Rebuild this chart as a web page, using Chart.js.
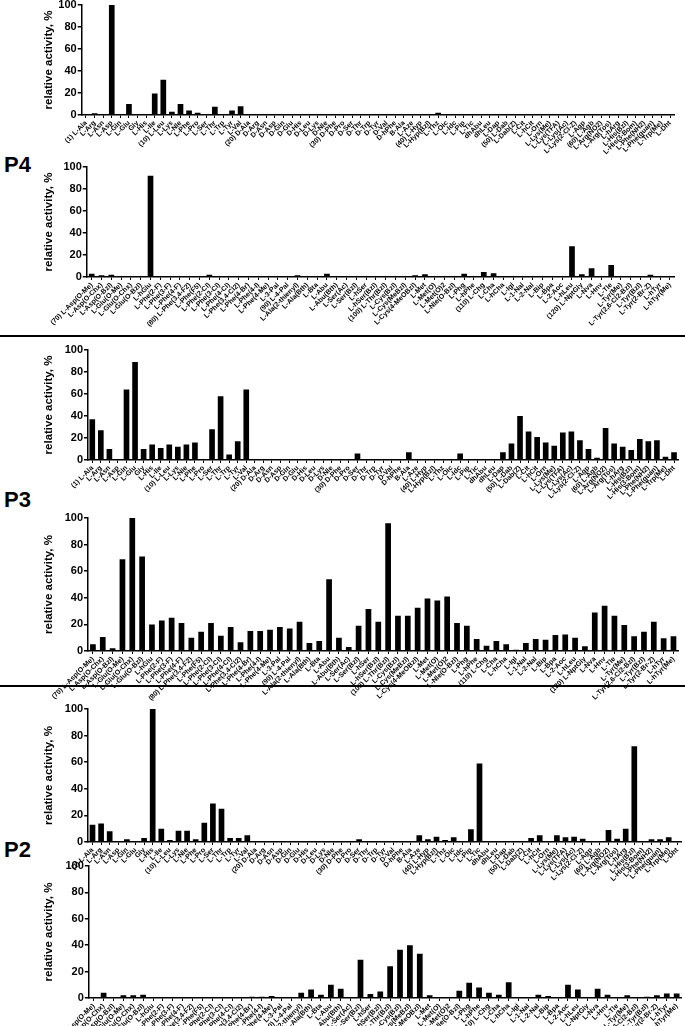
<!DOCTYPE html>
<html>
<head>
<meta charset="utf-8">
<title>Substrate specificity P4 / P3 / P2</title>
<script src="https://cdn.jsdelivr.net/npm/chart.js@4.4.1/dist/chart.umd.min.js"></script>
<style>
  body { margin: 0; width: 685px; height: 1026px; background: #fff; position: relative; overflow: hidden; }
  canvas { position: absolute; }
  .sep { position: absolute; left: 0; width: 685px; height: 2px; background: #000; }
  .tag { position: absolute; left: 4px; font: bold 22px 'Liberation Sans', Arial, sans-serif; color: #000; }
</style>
</head>
<body>
<div class="tag" style="top:152px">P4</div>
<div class="tag" style="top:487px">P3</div>
<div class="tag" style="top:837px">P2</div>
<div class="sep" style="top:335px"></div>
<div class="sep" style="top:685px"></div>

<canvas id="p4a"></canvas>
<canvas id="p4b"></canvas>
<canvas id="p3a"></canvas>
<canvas id="p3b"></canvas>
<canvas id="p2a"></canvas>
<canvas id="p2b"></canvas>

<script>
// amino acid sets (1-69 and 70-129)
const labelsNat = [
  '(1) L-Ala', 'L-Arg', 'L-Asn', 'L-Asp', 'L-Gln', 'L-Glu', 'Gly', 'L-His', 'L-Ile', '(10) L-Leu',
  'L-Lys', 'L-Nle', 'L-Phe', 'L-Pro', 'L-Ser', 'L-Thr', 'L-Trp', 'L-Tyr', 'L-Val', '(20) D-Ala',
  'D-Arg', 'D-Asn', 'D-Asp', 'D-Gln', 'D-Glu', 'D-His', 'D-Leu', 'D-Lys', 'D-Nle', '(30) D-Phe',
  'D-Pro', 'D-Ser', 'D-Thr', 'D-Trp', 'D-Tyr', 'D-Val', 'D-hPhe', 'B-Ala', 'L-Aze', '(40) L-Hyp',
  'L-Hyp(Bzl)', 'L-Thz', 'L-Oic', 'L-Idc', 'L-Pip', 'L-Tic', 'dhAbu', 'dhLeu', 'L-Dap', '(50) L-Dab',
  'L-Dab(Z)', 'L-Cit', 'L-hCit', 'L-Orn', 'L-Lys(Me)', 'L-Lys(TFA)', 'L-Lys(Ac)', 'L-Lys(2-Cl-Z)', 'L-Agp', '(60) L-Agb',
  'L-Arg(NO2)', 'L-Arg(Tos)', 'L-hArg', 'L-His(Bzl)', 'L-His(3-Bom)', 'L-Phe(NH2)', 'L-Phe(guan)', 'L-Trp(Me)', 'L-Dht'
];
const labelsUnnat = [
  '(70) L-Asp(O-Me)', 'L-Asp(O-Chx)', 'L-Asp(O-Bzl)', 'L-Glu(O-Me)', 'L-Glu(O-Chx)', 'L-Glu(O-Bzl)', 'L-hGlu', 'L-Phe(2-F)', 'L-Phe(3-F)', 'L-Phe(4-F)',
  '(80) L-Phe(3,4-F2)', 'L-Phe(F5)', 'L-Phe(2-Cl)', 'L-Phe(3-Cl)', 'L-Phe(4-Cl)', 'L-Phe(3,4-Cl2)', 'L-Phe(4-Br)', 'L-Phe(4-I)', 'L-Phe(4-Me)', 'L-3-Pal',
  '(90) L-4-Pal', 'L-Ala(2-thienyl)', 'L-Ala(Bth)', 'L-Bta', 'L-Abu', 'L-Abu(Bth)', 'L-Ser(Ac)', 'L-Ser(Bzl)', 'L-hSer', 'L-hSer(Bzl)',
  '(100) L-Thr(Bzl)', 'L-Cys(Bzl)', 'L-Cys(MeBzl)', 'L-Cys(4-MeOBzl)', 'L-Met', 'L-Met(O)', 'L-Met(O)2', 'L-Nle(O-Bzl)', 'L-Phg', 'L-hPhe',
  '(110) L-Chg', 'L-Cha', 'L-hCha', 'L-Igl', 'L-1-Nal', 'L-2-Nal', 'L-Bip', 'L-Bpa', 'L-2-Aoc', 'L-hLeu',
  '(120) L-NptGly', 'L-Nva', 'L-Hnv', 'L-Tle', 'L-Tyr(Me)', 'L-Tyr(2,6-Cl2-Bzl)', 'L-Tyr(Bzl)', 'L-Tyr(2-Br-Z)', 'L-hTyr', 'L-hTyr(Me)'
];

// relative activity, %
const p4Nat = [
  0, 1.5, 0, 100, 1, 10, 0, 0, 19.5, 32,
  3, 10, 4, 2, 0, 7.5, 0.5, 4, 8, 0,
  0, 0, 0, 0, 0, 0, 0, 0, 0, 0,
  0, 0, 0, 0, 0, 0, 0, 0, 0, 0,
  0, 2, 0, 0, 0, 0, 0, 1, 0, 0,
  0, 0, 0, 0, 0, 0, 0, 0, 0, 0,
  0, 0, 0, 0, 0, 0, 0, 0, 0
];
const p4Unnat = [
  3, 1.5, 2, 0, 0, 0, 92, 1, 1, 0,
  0, 0, 2, 0, 0, 0, 0, 0, 0, 1,
  0, 1.5, 0, 0, 3, 0, 0, 0, 0, 0,
  0, 0, 0, 1.5, 2.5, 0, 0, 0, 3, 0,
  4.5, 3.5, 0, 0, 0, 0, 0, 0, 0, 28,
  2.5, 8, 1, 11, 0, 0, 0, 2, 0, 0
];
const p3Nat = [
  37, 27, 10, 0, 64, 89, 10, 14, 11, 14,
  12, 14, 16, 0, 28, 58, 5, 17, 64, 1,
  0, 0, 0, 0, 0, 0, 0, 0, 0, 0,
  0, 6, 0, 0, 0, 0, 0, 7, 0, 0,
  0, 0, 0, 6, 0, 0, 0, 0, 7, 15,
  40, 26, 21, 16, 13, 25, 26, 18, 10, 2,
  29, 15, 12, 9, 19, 17, 18, 3, 7
];
const p3Unnat = [
  5, 10.5, 2, 69, 100, 71, 20, 23, 25, 21,
  10, 14.5, 21, 11.5, 18, 6.5, 15, 15, 16, 18,
  17, 22, 6, 7.5, 54, 10, 3, 19, 31.5, 22,
  96, 26.5, 26.5, 32.5, 39.5, 38, 41, 21, 19, 9,
  4, 7.5, 5, 1, 6, 9, 8.5, 12, 12.5, 10,
  3.5, 29, 34, 26.5, 19.5, 11, 14.5, 22, 9.5, 11
];
const p2Nat = [
  13, 14, 8, 0, 2, 0, 3, 100, 10, 1.5,
  8.5, 8.5, 2, 14.5, 29, 25, 3, 3, 5, 0,
  0, 0, 0, 0, 0, 0, 0, 0, 0, 0,
  0, 2, 0, 0, 0, 0, 0, 0, 5, 2,
  4, 1.5, 3.5, 0, 9.5, 59, 0, 0, 0, 0,
  0, 3, 5, 0, 5, 3.5, 4, 2.5, 0, 0,
  9, 2.5, 10, 72, 0, 2, 2, 3.5, 0
];
const p2Unnat = [
  0, 4, 0, 2, 2, 2.5, 0, 0, 0, 0,
  0, 0, 0, 0, 0, 0, 1, 1, 1.5, 0,
  0, 4, 6.5, 2.5, 10, 7, 0, 29, 3, 5,
  24, 36.5, 40, 33.5, 2, 0, 0, 5.5, 11.5, 8,
  4, 2.5, 12, 0, 0, 2.5, 1.5, 0, 10, 6.5,
  0, 7, 2.5, 0, 2, 0, 1, 2, 3.5, 3.5
];
const yTicks = [0, 20, 40, 60, 80, 100];

const FONT = "'Liberation Sans', Arial, sans-serif";
const CANVAS_LEFT = 38;
const TOP_PAD = 8;
const X_AXIS_H = 52;
const EXTRA_BOTTOM = 40; // room for long rotated labels

function makePanel(id, labels, values, g) {
    const canvas = document.getElementById(id);
    const plotH = g.bottom - g.top;
    canvas.width = 685 - CANVAS_LEFT;
    canvas.height = TOP_PAD + plotH + X_AXIS_H + EXTRA_BOTTOM;
    canvas.style.left = CANVAS_LEFT + 'px';
    canvas.style.top = (g.top - TOP_PAD) + 'px';

    return new Chart(canvas, {
        type: 'bar',
        data: {
            labels: labels,
            datasets: [{
                data: values,
                backgroundColor: '#000',
                borderWidth: 0,
                barPercentage: g.bar,
                categoryPercentage: 1,
            }],
        },
        options: {
            responsive: false,
            animation: false,
            devicePixelRatio: 1,
            layout: { padding: { top: TOP_PAD, left: 0, right: 685 - g.right, bottom: EXTRA_BOTTOM } },
            plugins: { legend: { display: false }, tooltip: { enabled: false } },
            scales: {
                x: {
                    grid: { display: true, drawOnChartArea: false, offset: false, tickLength: 3, color: '#000', lineWidth: 1 },
                    border: { color: '#000', width: 1.5 },
                    ticks: {
                        autoSkip: false, maxRotation: 45, minRotation: 45, padding: 1,
                        color: '#000', font: { family: FONT, size: 7, weight: 'bold' },
                    },
                    afterFit: s => { s.height = X_AXIS_H; s.paddingLeft = 0; s.paddingRight = 0; },
                },
                y: {
                    min: 0, max: 100,
                    afterBuildTicks: s => { s.ticks = yTicks.map(v => ({ value: v })); },
                    grid: { display: true, drawOnChartArea: false, tickLength: 4, color: '#000', lineWidth: 1.5 },
                    border: { color: '#000', width: 1.5 },
                    ticks: { padding: 1, color: '#000', font: { family: FONT, size: 11, weight: 'bold' } },
                    title: {
                        display: true, text: 'relative activity, %', color: '#000',
                        padding: { top: 4, bottom: 0 },
                        font: { family: FONT, size: 11.5, weight: 'bold' },
                    },
                    afterFit: s => { s.width = g.left - CANVAS_LEFT; },
                },
            },
        },
    });
}

makePanel('p4a', labelsNat, p4Nat, { left: 81.7, right: 674.4, top: 4.7, bottom: 114.7, bar: 0.66 });
makePanel('p4b', labelsUnnat, p4Unnat, { left: 86.8, right: 674.9, top: 167.3, bottom: 278, bar: 0.58 });
makePanel('p3a', labelsNat, p3Nat, { left: 88.0, right: 678.3, top: 350, bottom: 460, bar: 0.66 });
makePanel('p3b', labelsUnnat, p3Unnat, { left: 88.0, right: 678.4, top: 518, bottom: 651, bar: 0.58 });
makePanel('p2a', labelsNat, p2Nat, { left: 88.2, right: 681.6, top: 709.4, bottom: 843.3, bar: 0.66 });
makePanel('p2b', labelsUnnat, p2Unnat, { left: 88.8, right: 681.6, top: 866, bottom: 998.5, bar: 0.58 });
</script>
</body>
</html>
